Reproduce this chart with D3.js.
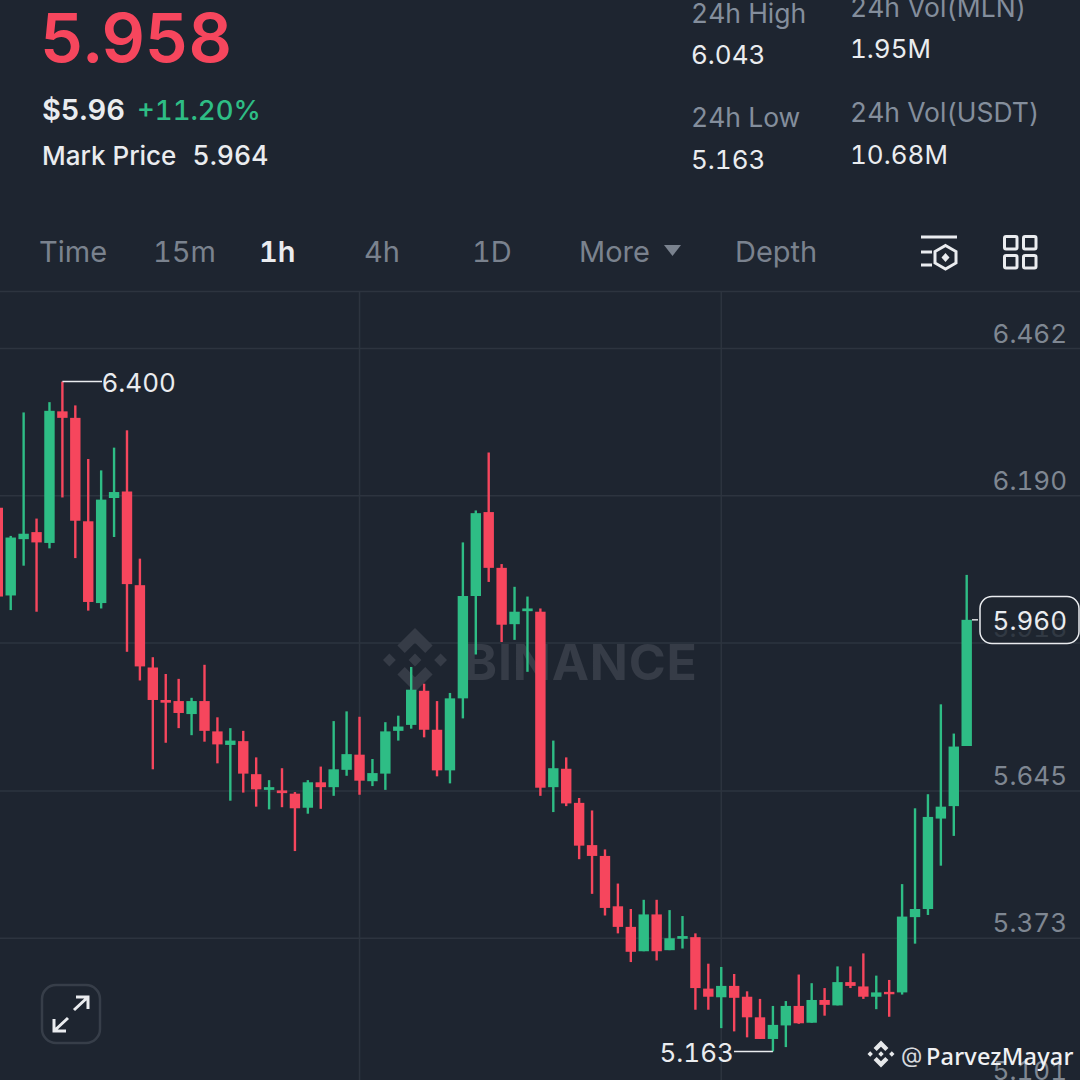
<!DOCTYPE html>
<html><head><meta charset="utf-8">
<script src="https://cdn.jsdelivr.net/npm/d3@7"></script>
<style>html,body{margin:0;padding:0;background:#1e2530;overflow:hidden}svg{display:block}text{font-family:Inter,"Noto Sans",sans-serif;font-variant-numeric:tabular-nums;font-feature-settings:"tnum" 1}</style>
</head><body><svg id="c" width="1080" height="1080"></svg>
<script>
const opens=[6.167,6.005,6.109,6.122,6.102,6.345,6.333,6.142,5.991,6.185,6.197,6.024,5.872,5.812,5.810,5.786,5.810,5.754,5.729,5.736,5.675,5.646,5.645,5.639,5.613,5.660,5.651,5.683,5.711,5.662,5.676,5.755,5.766,5.829,5.757,5.682,5.815,6.004,6.159,6.056,5.952,5.976,5.975,5.651,5.685,5.622,5.544,5.524,5.431,5.393,5.348,5.416,5.350,5.371,5.374,5.279,5.263,5.284,5.264,5.226,5.186,5.211,5.247,5.216,5.258,5.248,5.291,5.283,5.264,5.273,5.272,5.411,5.426,5.593,5.616,5.727];
const highs=[6.180,6.115,6.343,6.147,6.362,6.400,6.356,6.257,6.236,6.278,6.310,6.073,5.891,5.860,5.851,5.816,5.877,5.780,5.760,5.755,5.706,5.664,5.686,5.642,5.664,5.689,5.773,5.791,5.781,5.703,5.771,5.783,5.873,5.842,5.810,5.825,6.103,6.162,6.269,6.063,6.021,6.003,5.981,5.737,5.706,5.631,5.608,5.536,5.473,5.426,5.443,5.443,5.424,5.413,5.381,5.325,5.319,5.306,5.274,5.260,5.247,5.256,5.305,5.289,5.280,5.320,5.320,5.344,5.303,5.295,5.472,5.612,5.638,5.804,5.750,6.043];
const lows=[5.990,5.978,6.060,5.975,6.092,6.186,6.074,5.977,5.981,6.113,5.901,5.848,5.684,5.733,5.760,5.747,5.735,5.695,5.626,5.641,5.615,5.610,5.614,5.533,5.602,5.611,5.635,5.672,5.637,5.653,5.646,5.737,5.759,5.743,5.671,5.658,5.778,5.896,6.030,5.919,5.923,5.864,5.635,5.605,5.616,5.518,5.454,5.414,5.381,5.328,5.348,5.331,5.350,5.353,5.240,5.240,5.206,5.200,5.189,5.186,5.163,5.171,5.214,5.216,5.229,5.248,5.280,5.260,5.241,5.227,5.268,5.362,5.415,5.506,5.561,5.727];
const closes=[6.003,6.112,6.119,6.103,6.346,6.333,6.143,5.993,6.182,6.196,6.026,5.874,5.812,5.807,5.788,5.810,5.755,5.730,5.737,5.676,5.647,5.651,5.640,5.612,5.660,5.651,5.684,5.712,5.663,5.677,5.754,5.763,5.831,5.757,5.682,5.815,6.004,6.157,6.056,5.951,5.975,5.981,5.650,5.686,5.621,5.543,5.524,5.428,5.393,5.347,5.416,5.348,5.372,5.376,5.280,5.264,5.284,5.262,5.226,5.186,5.212,5.247,5.215,5.258,5.249,5.291,5.284,5.264,5.272,5.269,5.412,5.426,5.596,5.615,5.726,5.960];
const priceTicks=[6.462,6.190,5.918,5.645,5.373,5.101];
const timeTicks=[28,56];
const tabs=["Time","15m","1h","4h","1D","More","Depth"];
const BG="#1e2530",RED="#f6465d",GREEN="#2ebd85",GRID="#2d343f",GRAY="#7f8792",MUTE="#848e9c",WHITE="#eaecef";

const svg=d3.select("#c");
const x=d3.scaleLinear().domain([0,75]).range([-2.2,966.7]);
const y=d3.scaleLinear().domain([6.462,5.101]).range([348,1085]);
const candles=opens.map((o,i)=>({i,o,h:highs[i],l:lows[i],c:closes[i]}));

function T(s,px,py,size,fill,weight=400,anchor="start"){
  return svg.append("text").attr("x",px).attr("y",py).attr("font-size",size).attr("fill",fill).attr("font-weight",weight).attr("text-anchor",anchor).text(s);
}
// header
T("5.958",40,62,68,RED,600).attr("letter-spacing",-.5);
T("$5.96",42,120,29,WHITE,600);
T("+11.20%",137,120,27.5,GREEN,500);
T("Mark Price",42,165,26,WHITE,500);
T("5.964",192.5,165,26.5,WHITE,500);
T("24h High",691,23,26.5,MUTE);
T("6.043",691,64,26,WHITE);
T("24h Vol(MLN)",850,17,26.5,MUTE);
T("1.95M",850,58,26,WHITE);
T("24h Low",691,127,26.5,MUTE);
T("5.163",691,169,26,WHITE);
T("24h Vol(USDT)",850,122,26.5,MUTE);
T("10.68M",850,164,26,WHITE);
// tabs
const tabX=[39,153,259,364,472,579,735];
tabs.forEach((t,i)=>T(t,tabX[i],262,29,i===2?WHITE:"#7a828e",i===2?600:400));
svg.append("path").attr("d","M664 245H681L672.5 256Z").attr("fill","#7a828e");
// icons
const ic=svg.append("g").attr("fill","none").attr("stroke",WHITE).attr("stroke-width",3);
ic.append("path").attr("d","M921 237H957M921 252H932M921 265H932");
ic.append("path").attr("d","M945.5 245.5L956 251.5V263L945.5 269L935 263V251.5Z");
svg.append("path").attr("d","M945.5 253L949.5 257.5L945.5 262L941.5 257.5Z").attr("fill",WHITE);
[[1003,235],[1022,235],[1003,254],[1022,254]].forEach(p=>ic.append("rect").attr("x",p[0]+1.5).attr("y",p[1]+1.5).attr("width",12.5).attr("height",12.5).attr("rx",1.5));
// chart frame + grid
svg.append("line").attr("x1",0).attr("x2",1080).attr("y1",291.5).attr("y2",291.5).attr("stroke",GRID).attr("stroke-width",1.5);
svg.append("g").selectAll("line").data(timeTicks).join("line").attr("x1",d=>x(d)).attr("x2",d=>x(d)).attr("y1",292).attr("y2",1080).attr("stroke",GRID).attr("stroke-width",1.5);
const axis=d3.axisRight(y).tickValues(priceTicks).tickSize(1080).tickFormat(d3.format(".3f"));
const ax=svg.append("g").call(axis);
ax.select(".domain").remove();
ax.selectAll(".tick line").attr("stroke",GRID).attr("stroke-width",1.5);
ax.selectAll(".tick text").attr("x",1067).attr("dy",0).attr("y",-6).attr("text-anchor","end").attr("font-size",26).attr("fill",GRAY).style("font-family","Inter");
// watermark
T("BINANCE",464,680,50,"#363c47",700).attr("letter-spacing",.8);
function logo(g,cx,cy,s,fill){
  const d=(x0,y0,r)=>`M${cx+x0*s} ${cy+(y0-r)*s}L${cx+(x0+r)*s} ${cy+y0*s}L${cx+x0*s} ${cy+(y0+r)*s}L${cx+(x0-r)*s} ${cy+y0*s}Z`;
  g.append("path").attr("fill",fill).attr("d",d(-.8,0,.2)+d(.8,0,.2)+d(0,0,.2)+
   `M${cx} ${cy-s}L${cx+.55*s} ${cy-.45*s}L${cx+.32*s} ${cy-.22*s}L${cx} ${cy-.54*s}L${cx-.32*s} ${cy-.22*s}L${cx-.55*s} ${cy-.45*s}Z`+
   `M${cx} ${cy+s}L${cx+.55*s} ${cy+.45*s}L${cx+.32*s} ${cy+.22*s}L${cx} ${cy+.54*s}L${cx-.32*s} ${cy+.22*s}L${cx-.55*s} ${cy+.45*s}Z`);
}
logo(svg,415,660,32,"#363c47");
// candles
const color=d=>d.c>=d.o?GREEN:RED;
const g=svg.append("g");
g.selectAll("line").data(candles).join("line").attr("x1",d=>x(d.i)).attr("x2",d=>x(d.i)).attr("y1",d=>y(d.h)).attr("y2",d=>y(d.l)).attr("stroke",color).attr("stroke-width",2.4);
g.selectAll("rect").data(candles).join("rect").attr("x",d=>x(d.i)-5.2).attr("width",10.4).attr("y",d=>y(Math.max(d.o,d.c))).attr("height",d=>Math.max(2.4,Math.abs(y(d.o)-y(d.c)))).attr("fill",color);
// high/low labels
const hiI=highs.indexOf(d3.max(highs)),loI=lows.indexOf(d3.min(lows));
svg.append("path").attr("d",`M${x(hiI)} ${y(highs[hiI])}H102`).attr("stroke",WHITE).attr("stroke-width",1.6).attr("fill","none");
T(d3.format(".3f")(highs[hiI]),101.5,392,26,WHITE);
svg.append("path").attr("d",`M${x(loI)} ${y(lows[loI])}H734`).attr("stroke",WHITE).attr("stroke-width",1.6).attr("fill","none");
T(d3.format(".3f")(lows[loI]),659.5,1062,26,WHITE);
// last price
const last=closes[closes.length-1];
svg.append("line").attr("x1",972).attr("x2",978).attr("y1",y(last)).attr("y2",y(last)).attr("stroke",WHITE).attr("stroke-width",1.4);
svg.append("rect").attr("x",980).attr("y",596.5).attr("width",99).attr("height",47).attr("rx",12).attr("fill",BG).attr("fill-opacity",.8).attr("stroke",WHITE).attr("stroke-width",1.5);
T(d3.format(".3f")(last),1067,630,26,WHITE,400,"end");
// expand button
svg.append("rect").attr("x",42).attr("y",985).attr("width",58).attr("height",58).attr("rx",14).attr("fill","none").attr("stroke","#373e49").attr("stroke-width",2.5);
svg.append("path").attr("d","M74 1010L88 997M76 997H88V1009M68 1018L54 1031M54 1019V1031H66").attr("fill","none").attr("stroke",WHITE).attr("stroke-width",3);
// signature
logo(svg,881,1054,13.5,"#e6e8ea");
T("@",901,1063,22,"#d5d8dc");
T("ParvezMayar",926,1065,23.5,"#f0f1f3",500).style("font-family","'Noto Sans'").attr("letter-spacing",.2);
</script></body></html>
